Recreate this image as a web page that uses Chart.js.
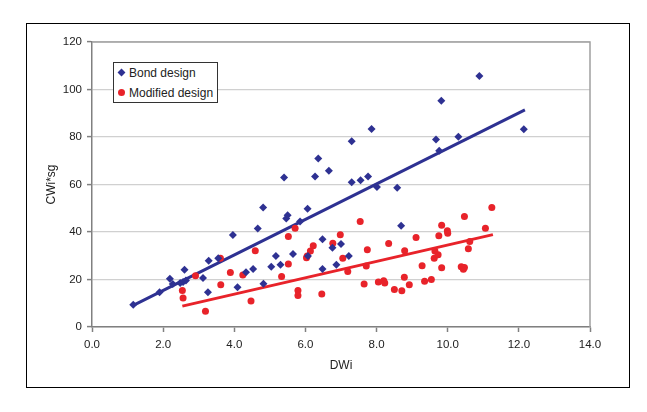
<!DOCTYPE html>
<html>
<head>
<meta charset="utf-8">
<script src="https://cdn.jsdelivr.net/npm/chart.js@4/dist/chart.umd.min.js"></script>
<style>
  body { margin: 0; background: #fff; }
  #wrap { position: relative; width: 647px; height: 412px; }
  #legend {
    position: absolute; left: 113px; top: 62px; width: 103px; height: 39px;
    border: 1px solid #333; background: #fff; overflow: hidden;
    font: 12px "Liberation Sans", Arial, sans-serif; color: #222;
  }
  #legend .item { position: absolute; left: 4px; white-space: nowrap; line-height: 14px; }
  #legend .mk { display: inline-block; width: 7px; height: 7px; margin-right: 4px; vertical-align: 1px; }
  #legend .dia { background: #2E3192; transform: rotate(45deg) scale(0.8); }
  #legend .dot { background: #E8232A; border-radius: 50%; }
</style>
</head>
<body>
<div id="wrap">
  <canvas id="chart" width="647" height="412"></canvas>
  <div id="legend">
    <div class="item" style="top:3px"><span class="mk dia"></span>Bond design</div>
    <div class="item" style="top:23px"><span class="mk dot"></span>Modified design</div>
  </div>
</div>
<script>
// Bond design (diamonds)
const bondX = [1.16, 1.90, 2.19, 2.27, 2.48, 2.56, 2.60, 2.64, 3.12, 3.28, 3.26, 3.55, 3.96, 4.09, 4.33, 4.53,
  4.66, 4.81, 4.82, 5.04, 5.17, 5.30, 5.40, 5.46, 5.50, 5.65, 5.85, 6.06, 6.07, 6.27, 6.36, 6.48, 6.48, 6.66,
  6.76, 6.87, 7.00, 7.22, 7.30, 7.30, 7.55, 7.76, 7.86, 8.01, 8.58, 8.69, 9.67, 9.76, 9.82, 10.30, 10.89, 12.14];
const bondY = [9.4, 14.6, 20.3, 18.1, 18.5, 18.9, 24.1, 19.6, 20.6, 27.9, 14.6, 28.9, 38.7, 16.7, 23.1, 24.4,
  41.5, 50.3, 18.2, 25.4, 29.9, 26.2, 62.9, 45.7, 47.1, 30.7, 44.4, 49.8, 29.9, 63.4, 70.9, 37.0, 24.4, 65.8,
  33.4, 26.2, 34.9, 29.9, 78.2, 61.0, 61.8, 63.4, 83.4, 58.9, 58.6, 42.6, 78.9, 74.2, 95.3, 80.1, 105.7, 83.3];

// Modified design (circles)
const modX = [2.54, 2.56, 2.91, 3.19, 3.61, 3.62, 3.89, 4.24, 4.47, 4.59, 5.33, 5.52, 5.52, 5.71, 5.79, 5.79,
  6.03, 6.05, 6.14, 6.22, 6.46, 6.77, 6.98, 7.05, 7.19, 7.54, 7.65, 7.71, 7.74, 8.05, 8.20, 8.23, 8.34, 8.50,
  8.71, 8.78, 8.79, 8.92, 9.11, 9.28, 9.35, 9.54, 9.62, 9.64, 9.73, 9.75, 9.83, 9.83, 9.99, 10.00, 10.38, 10.44,
  10.47, 10.47, 10.58, 10.62, 11.06, 11.24];
const modY = [15.4, 12.2, 21.6, 6.6, 28.9, 17.8, 22.9, 21.9, 10.9, 32.1, 21.3, 38.1, 26.5, 41.6, 15.4, 13.3,
  29.2, 29.9, 32.0, 34.2, 13.9, 35.3, 38.8, 28.9, 23.4, 44.4, 18.1, 25.7, 32.5, 18.9, 19.5, 18.5, 35.2, 15.8,
  15.3, 21.0, 32.1, 17.8, 37.7, 25.8, 19.3, 20.0, 29.0, 32.0, 30.4, 38.4, 42.8, 25.0, 40.5, 39.5, 25.4, 24.3,
  46.5, 25.1, 32.9, 36.0, 41.6, 50.3];

// linear trend lines (end points)
const bondTrendX = [1.16, 12.17];
const bondTrendY = [9.1, 91.4];
const modTrendX = [2.54, 11.27];
const modTrendY = [8.8, 38.9];

const xTicks = [0, 2, 4, 6, 8, 10, 12, 14];
const yTicks = [0, 20, 40, 60, 80, 100, 120];

const BLUE = '#2E3192';
const RED = '#E8232A';
const FONT = '"Liberation Sans", Arial, sans-serif';

const toPoints = (xs, ys) => xs.map((x, i) => ({ x: x, y: ys[i] }));

const frames = {
    id: 'frames',
    beforeDatasetsDraw(chart) {
        const { ctx, chartArea: a } = chart;
        ctx.save();
        ctx.strokeStyle = '#a0a0a0';
        ctx.lineWidth = 1.5;
        ctx.beginPath();
        ctx.moveTo(a.left, a.top);
        ctx.lineTo(a.right, a.top);
        ctx.lineTo(a.right, a.bottom);
        ctx.stroke();
        ctx.restore();
    },
    afterDraw(chart) {
        const ctx = chart.ctx;
        ctx.save();
        ctx.strokeStyle = '#000';
        ctx.lineWidth = 1;
        ctx.strokeRect(26.5, 23.5, 603, 364);
        ctx.restore();
    }
};

new Chart(document.getElementById('chart'), {
    type: 'scatter',
    data: {
        datasets: [
            {
                label: 'Bond design',
                data: toPoints(bondX, bondY),
                pointStyle: 'rectRot',
                pointRadius: 4,
                backgroundColor: BLUE,
                borderColor: BLUE,
                borderWidth: 0
            },
            {
                label: 'Modified design',
                data: toPoints(modX, modY),
                pointStyle: 'circle',
                pointRadius: 3.5,
                backgroundColor: RED,
                borderColor: RED,
                borderWidth: 0
            },
            {
                label: 'Bond trend',
                type: 'line',
                data: toPoints(bondTrendX, bondTrendY),
                borderColor: BLUE,
                borderWidth: 3,
                pointRadius: 0
            },
            {
                label: 'Modified trend',
                type: 'line',
                data: toPoints(modTrendX, modTrendY),
                borderColor: RED,
                borderWidth: 3,
                pointRadius: 0
            }
        ]
    },
    options: {
        responsive: false,
        animation: false,
        devicePixelRatio: 1,
        layout: { padding: { left: 27, top: 42, right: 57, bottom: 25 } },
        plugins: {
            legend: { display: false },
            tooltip: { enabled: false }
        },
        scales: {
            x: {
                type: 'linear',
                min: 0,
                max: 14,
                afterBuildTicks: (scale) => { scale.ticks = xTicks.map(v => ({ value: v })); },
                afterFit: (scale) => { scale.height = 60; },
                ticks: {
                    padding: 6,
                    color: '#222',
                    font: { family: FONT, size: 11.5 },
                    callback: (v) => Number(v).toFixed(1)
                },
                grid: { drawOnChartArea: false, tickLength: 5, tickColor: '#808080', tickWidth: 1.5 },
                border: { color: '#808080', width: 1.5 },
                title: {
                    display: true,
                    text: 'DWi',
                    color: '#222',
                    font: { family: FONT, size: 12 },
                    padding: { top: 0, bottom: 14 }
                }
            },
            y: {
                min: 0,
                max: 120,
                afterBuildTicks: (scale) => { scale.ticks = yTicks.map(v => ({ value: v })); },
                afterFit: (scale) => { scale.width = 65; },
                ticks: {
                    padding: 5,
                    color: '#222',
                    font: { family: FONT, size: 11.5 }
                },
                grid: { color: '#d0d0d0', lineWidth: 1.2, tickLength: 5, tickColor: '#808080', tickWidth: 1.5 },
                border: { color: '#808080', width: 1.5 },
                title: {
                    display: true,
                    text: 'CWi*sg',
                    color: '#222',
                    font: { family: FONT, size: 12 },
                    padding: { top: 17, bottom: 0 }
                }
            }
        }
    },
    plugins: [frames]
});
</script>
</body>
</html>
